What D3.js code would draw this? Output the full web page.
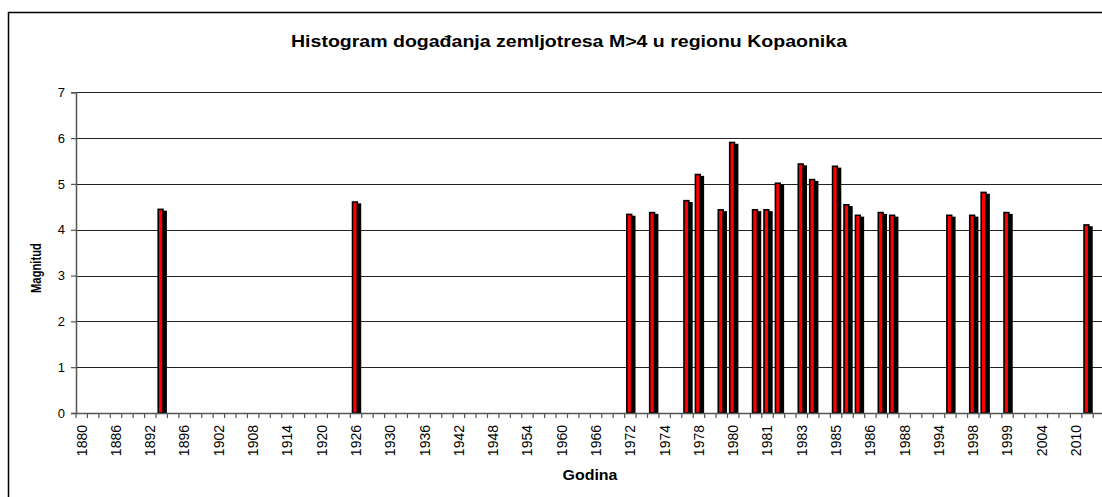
<!DOCTYPE html>
<html>
<head>
<meta charset="utf-8">
<script src="https://cdn.jsdelivr.net/npm/d3@7"></script>
<style>
  html, body { margin: 0; padding: 0; background: #fff; }
  svg { display: block; }
  text { font-family: "Liberation Sans", Arial, sans-serif; }
</style>
</head>
<body>
<svg id="chart" width="1102" height="497"></svg>
<script>
// ---- data ----
const title = "Histogram događanja zemljotresa M>4 u regionu Kopaonika";
const xTitle = "Godina";
const yTitle = "Magnitud";

const categories = [
  "1880","1882","1884","1886","1888","1890","1892","1893","1894","1896",
  "1898","1900","1902","1904","1906","1908","1910","1912","1914","1916",
  "1918","1920","1922","1924","1926","1927","1928","1930","1932","1934",
  "1936","1938","1940","1942","1944","1946","1948","1950","1952","1954",
  "1956","1958","1960","1962","1964","1966","1968","1970","1972","1972",
  "1973","1974","1976","1977","1978","1978","1979","1980","1980","1980",
  "1981","1981","1982","1983","1983","1984","1985","1985","1985","1986",
  "1986","1987","1988","1990","1992","1994","1995","1996","1998","1998",
  "1998","1999","2000","2002","2004","2006","2008","2010","2011","2012"
];

const magnitudes = [
  null,null,null,null,null,null,null,4.46,null,null,
  null,null,null,null,null,null,null,null,null,null,
  null,null,null,null,4.62,null,null,null,null,null,
  null,null,null,null,null,null,null,null,null,null,
  null,null,null,null,null,null,null,null,4.35,null,
  4.39,null,null,4.65,5.22,null,4.45,5.92,null,4.45,
  4.45,5.03,null,5.45,5.11,null,5.40,4.56,4.33,null,
  4.39,4.33,null,null,null,null,4.33,null,4.33,4.83,
  null,4.39,null,null,null,null,null,null,4.12,null
];

const yTicks = [0, 1, 2, 3, 4, 5, 6, 7];
const labelEvery = 3;

// ---- layout ----
const svg = d3.select("#chart");
const plotLeft = 76, plotTop = 92.3, plotBottom = 413;
const bandW = 11.43;
const plotRight = plotLeft + bandW * categories.length;

const x = d3.scaleBand().domain(d3.range(categories.length)).range([plotLeft, plotRight]).padding(0);
const y = d3.scaleLinear().domain([0, 7]).range([plotBottom, plotTop]);

// outer border
svg.append("rect")
  .attr("x", 8.5).attr("y", 12.5).attr("width", 1200).attr("height", 600)
  .attr("fill", "none").attr("stroke", "#000").attr("stroke-width", 1.5);

// title
svg.append("text")
  .attr("x", 569).attr("y", 47)
  .attr("text-anchor", "middle")
  .attr("font-size", 16).attr("font-weight", "bold")
  .attr("textLength", 556).attr("lengthAdjust", "spacingAndGlyphs")
  .text(title);

// gridlines
svg.append("g")
  .selectAll("line")
  .data(yTicks.filter(d => d > 0))
  .join("line")
  .attr("x1", plotLeft).attr("x2", plotRight)
  .attr("y1", d => Math.round(y(d)) + 0.5).attr("y2", d => Math.round(y(d)) + 0.5)
  .attr("stroke", "#222").attr("stroke-width", 1.2);

// y axis
const yAxis = d3.axisLeft(y).tickValues(yTicks).tickSize(5).tickPadding(6).tickFormat(d3.format("d"));
const gy = svg.append("g").attr("transform", `translate(${plotLeft},0)`).call(yAxis);
gy.select(".domain").attr("stroke", "#555").attr("stroke-width", 1.5);
gy.selectAll(".tick line").attr("stroke", "#555").attr("stroke-width", 1.2);
gy.selectAll(".tick text").attr("font-size", 13).attr("fill", "#000")
  .attr("font-family", "'Liberation Sans', Arial, sans-serif");

// bars
const barG = svg.append("g");
const barData = magnitudes.map((v, i) => ({ i, v })).filter(d => d.v != null);
// depth (3D side) part
barG.selectAll("rect.side")
  .data(barData)
  .join("rect")
  .attr("class", "side")
  .attr("x", d => x(d.i) + 6.5)
  .attr("y", d => y(d.v) + 2)
  .attr("width", 4.4)
  .attr("height", d => plotBottom - y(d.v) - 2)
  .attr("fill", "#000");
// front face
barG.selectAll("rect.front")
  .data(barData)
  .join("rect")
  .attr("class", "front")
  .attr("x", d => x(d.i) + 2.2)
  .attr("y", d => y(d.v) + 0.7)
  .attr("width", 4.8)
  .attr("height", d => plotBottom - y(d.v) - 0.7)
  .attr("fill", "#ff0000")
  .attr("stroke", "#000").attr("stroke-width", 1.6);

// x axis
const xAxis = d3.axisBottom(x)
  .tickValues(d3.range(0, categories.length, labelEvery))
  .tickFormat(i => categories[i])
  .tickSize(0);
const gx = svg.append("g").attr("transform", `translate(0,${plotBottom})`).call(xAxis);
gx.select(".domain").attr("stroke", "#555").attr("stroke-width", 1.5);
gx.selectAll(".tick line").remove();
gx.selectAll(".tick text")
  .attr("font-size", 14).attr("fill", "#000")
  .attr("font-family", "'Liberation Sans', Arial, sans-serif")
  .attr("transform", "rotate(-90)")
  .attr("text-anchor", "end")
  .attr("dy", "0.35em")
  .attr("x", -12).attr("y", 0);

// category boundary tick marks
svg.append("g")
  .selectAll("line")
  .data(d3.range(categories.length + 1))
  .join("line")
  .attr("x1", i => plotLeft + i * bandW).attr("x2", i => plotLeft + i * bandW)
  .attr("y1", plotBottom).attr("y2", plotBottom + 5)
  .attr("stroke", "#555").attr("stroke-width", 1.2);

// axis titles
svg.append("text")
  .attr("x", 590).attr("y", 480)
  .attr("text-anchor", "middle")
  .attr("font-size", 14).attr("font-weight", "bold")
  .attr("textLength", 55).attr("lengthAdjust", "spacingAndGlyphs")
  .text(xTitle);

svg.append("text")
  .attr("transform", `translate(41,268) rotate(-90)`)
  .attr("text-anchor", "middle")
  .attr("font-size", 14).attr("font-weight", "bold")
  .attr("textLength", 50).attr("lengthAdjust", "spacingAndGlyphs")
  .text(yTitle);
</script>
</body>
</html>
